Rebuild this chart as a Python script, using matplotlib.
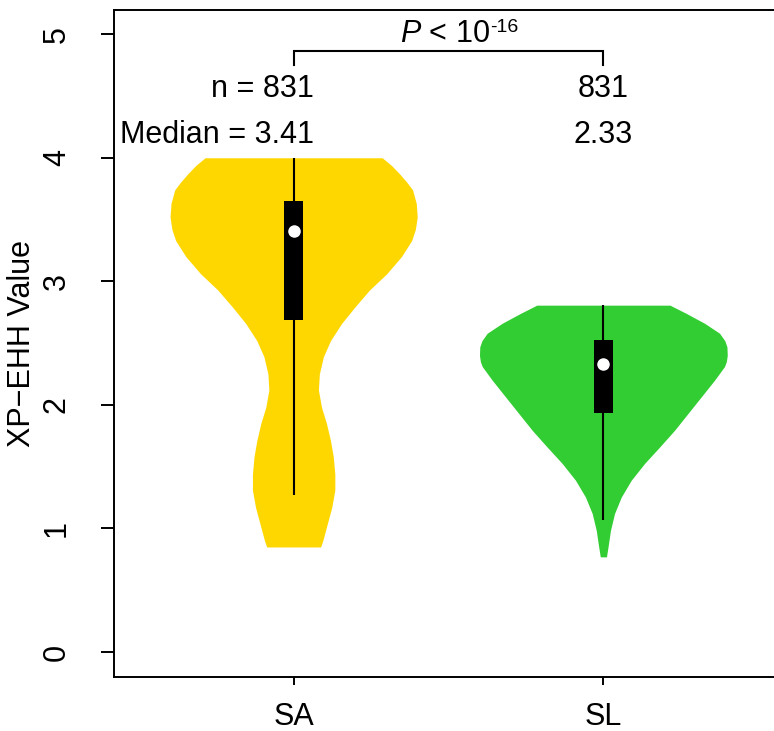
import numpy as np
import matplotlib as mpl
import matplotlib.pyplot as plt

mpl.rcParams.update({
    "font.family": ["Liberation Sans", "DejaVu Sans"], "font.size": 22,
    "mathtext.fontset": "custom", "mathtext.rm": "Liberation Sans",
    "mathtext.it": "Liberation Sans:italic",
})

# ---- data ----
GROUPS = ["SA", "SL"]
COLORS = ["#FFD700", "#32CD32"]
N = [831, 831]
MEDIAN = [3.41, 2.33]
Q1 = [2.686, 1.935]
Q3 = [3.652, 2.524]
WHISK_LO = [1.27, 1.072]
WHISK_HI = [4.00, 2.807]

# violin outline: y level -> half width (x units)
SA_Y = [4.00, 3.94, 3.87, 3.80, 3.74, 3.63, 3.52, 3.42, 3.33, 3.20, 3.06, 2.93, 2.79, 2.66,
        2.52, 2.39, 2.25, 2.12, 1.98, 1.85, 1.71, 1.58, 1.44, 1.31, 1.17, 1.04, 0.90, 0.85]
SA_W = [0.286, 0.315, 0.342, 0.366, 0.384, 0.396, 0.399, 0.393, 0.381, 0.348, 0.300, 0.245,
        0.197, 0.155, 0.119, 0.096, 0.083, 0.080, 0.090, 0.106, 0.119, 0.128, 0.133, 0.133,
        0.123, 0.109, 0.094, 0.087]
SL_Y = [2.807, 2.74, 2.66, 2.58, 2.52, 2.47, 2.40, 2.35, 2.31, 2.20, 2.065, 1.93, 1.795,
        1.66, 1.526, 1.39, 1.255, 1.121, 0.985, 0.85, 0.77]
SL_W = [0.215, 0.268, 0.327, 0.375, 0.392, 0.399, 0.400, 0.397, 0.391, 0.359, 0.316, 0.273,
        0.230, 0.182, 0.133, 0.090, 0.058, 0.036, 0.023, 0.015, 0.010]
PROFILES = [(SA_Y, SA_W), (SL_Y, SL_W)]

W, H = 774, 731
fig = plt.figure(figsize=(W / 100, H / 100), dpi=100)
# right spine of the original sits just outside the crop
ax = fig.add_axes([114 / W, 1 - 676.7 / H, (783 - 114) / W, (676.7 - 9.5) / H])

for i, (ys, ws) in enumerate(PROFILES):
    x0 = i + 1
    ys, ws = np.array(ys), np.array(ws)
    ax.fill_betweenx(ys, x0 - ws, x0 + ws, color=COLORS[i], lw=0, zorder=1)
    ax.vlines(x0, WHISK_LO[i], WHISK_HI[i], color="black", lw=1.5, zorder=2)
    ax.bar(x0, Q3[i] - Q1[i], bottom=Q1[i], width=0.06, color="black", zorder=3)
    ax.plot(x0, MEDIAN[i], "o", color="white", ms=8, mec="white", zorder=4)

# annotations
ax.text(1.065, 4.49, f"n = {N[0]}", ha="right", va="baseline")
ax.text(1.065, 4.12, f"Median = {MEDIAN[0]:.2f}", ha="right", va="baseline")
ax.text(2.0, 4.49, f"{N[1]}", ha="center", va="baseline")
ax.text(2.0, 4.12, f"{MEDIAN[1]:.2f}", ha="center", va="baseline")
ax.plot([1, 1, 2, 2], [4.75, 4.865, 4.865, 4.75], color="black", lw=1.5, solid_joinstyle="miter")
ax.text(1.633, 4.94, r"$\it{P}$ < 10", ha="right", va="baseline")
ax.text(1.636, 5.02, "-16", ha="left", va="baseline", fontsize=14)

ax.set_xlim(0.42, 2.58)
ax.set_ylim(-0.2, 5.2)
ax.set_xticks([1, 2], GROUPS)
ax.set_yticks(range(6))
for lab in ax.get_yticklabels():
    lab.set_rotation(90)
    lab.set_va("center")
ax.tick_params(axis="y", length=9.4, width=1.4, pad=21)
ax.tick_params(axis="x", length=6, width=1.4, pad=12)
for sp in ("left", "bottom", "top"):
    ax.spines[sp].set_linewidth(1.4)
ax.spines["right"].set_visible(False)
ax.text(-0.138, 0.5, "XP\u2212EHH Value", rotation=90, ha="center", va="center",
        transform=ax.transAxes)

fig.savefig("out.png", dpi=100)
